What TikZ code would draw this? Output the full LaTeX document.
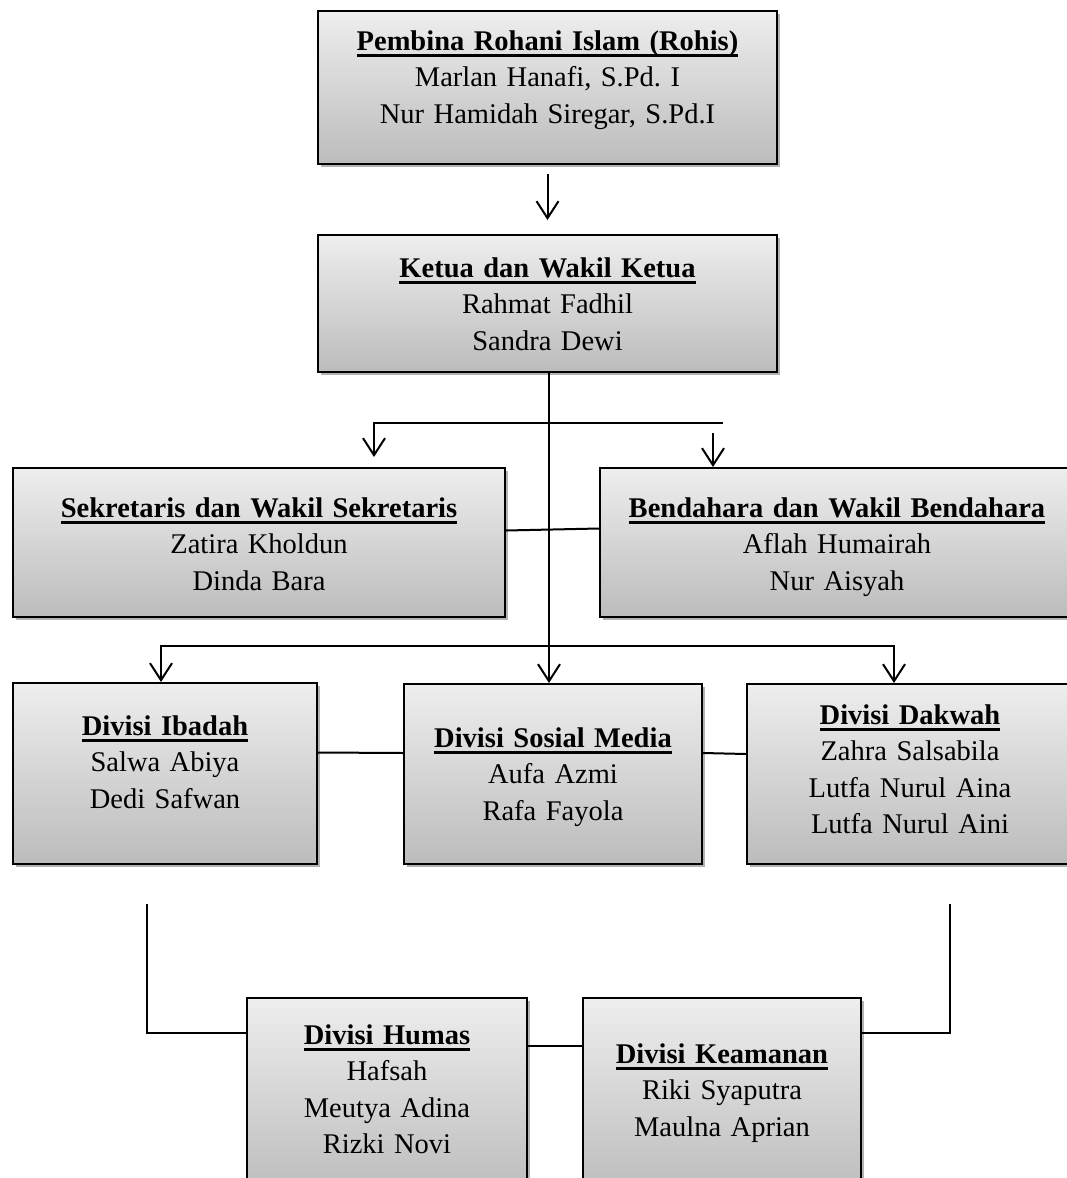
\documentclass[tikz,border=0pt]{standalone}
\usepackage{fontspec}
\setmainfont{Liberation Serif}
\usetikzlibrary{arrows.meta,shadows,calc}
\definecolor{boxtop}{RGB}{238,238,238}
\definecolor{boxbot}{RGB}{188,188,188}
\newcommand\ulbox[1]{\setbox0\hbox{#1}\rlap{\rule[-6.5pt]{\wd0}{2.4pt}}\box0}
\frenchspacing
\begin{document}
\begin{tikzpicture}[x=1pt,y=-1pt,
  boxnode/.style={draw=black, line width=2pt, rectangle, inner sep=0pt,
    top color=boxtop, bottom color=boxbot,
    drop shadow={shadow xshift=3pt, shadow yshift=-3pt, opacity=0.3, fill=black}},
  txt/.style={align=center, text width=480pt, font=\fontsize{28.5}{36.5}\selectfont, inner sep=0pt, anchor=base},
  conn/.style={line width=2pt},
  arr/.style={conn, -{Straight Barb[length=17pt,width=22pt]}}
]
\useasboundingbox (0,0) rectangle (1067,1178);

% boxes
\node[boxnode, minimum width=459pt, minimum height=153pt] (pembina) at (547.5,87.5) {};
\node[boxnode, minimum width=459pt, minimum height=137pt] (ketua) at (547.5,303.5) {};
\node[boxnode, minimum width=492pt, minimum height=149pt] (sekretaris) at (259,542.5) {};
\node[boxnode, minimum width=474pt, minimum height=149pt] (bendahara) at (837,542.5) {};
\node[boxnode, minimum width=304pt, minimum height=181pt] (ibadah) at (165,773.5) {};
\node[boxnode, minimum width=298pt, minimum height=180pt] (sosial) at (553,774) {};
\node[boxnode, minimum width=326pt, minimum height=180pt] (dakwah) at (910,774) {};
\node[boxnode, minimum width=280pt, minimum height=197pt] (humas) at (387,1096.5) {};
\node[boxnode, minimum width=278pt, minimum height=197pt] (keamanan) at (722,1096.5) {};

% texts
\node[txt] (pembina-t) at (547.5,50) {\ulbox{\bfseries Pembina Rohani Islam (Rohis)}\\Marlan Hanafi, S.Pd. I\\Nur Hamidah Siregar, S.Pd.I};
\node[txt] (ketua-t) at (547.5,277) {\ulbox{\bfseries Ketua dan Wakil Ketua}\\Rahmat Fadhil\\Sandra Dewi};
\node[txt] (sekretaris-t) at (259,517) {\ulbox{\bfseries Sekretaris dan Wakil Sekretaris}\\Zatira Kholdun\\Dinda Bara};
\node[txt] (bendahara-t) at (837,517) {\ulbox{\bfseries Bendahara dan Wakil Bendahara}\\Aflah Humairah\\Nur Aisyah};
\node[txt] (ibadah-t) at (165,735) {\ulbox{\bfseries Divisi Ibadah}\\Salwa Abiya\\Dedi Safwan};
\node[txt] (sosial-t) at (553,747) {\ulbox{\bfseries Divisi Sosial Media}\\Aufa Azmi\\Rafa Fayola};
\node[txt] (dakwah-t) at (910,724) {\ulbox{\bfseries Divisi Dakwah}\\Zahra Salsabila\\Lutfa Nurul Aina\\Lutfa Nurul Aini};
\node[txt] (humas-t) at (387,1044) {\ulbox{\bfseries Divisi Humas}\\Hafsah\\Meutya Adina\\Rizki Novi};
\node[txt] (keamanan-t) at (722,1063) {\ulbox{\bfseries Divisi Keamanan}\\Riki Syaputra\\Maulna Aprian};

% connectors
\draw[arr, shorten <=9pt, shorten >=14pt] (pembina) -- (ketua);
\coordinate (j1) at (549,423);
\coordinate (j1r) at (723,423);
\coordinate (bin) at (713,433);
\coordinate (j2) at (549,646);
\draw[arr] (ketua.south -| j1) -- (sosial.north -| j1);
\draw[arr, shorten >=10pt] (j1) -| ($(sekretaris.north west)+(362,0)$);
\draw[conn] (j1) -- (j1r);
\draw[arr] (bin) -- (bendahara.north -| bin);
\draw[conn] ($(sekretaris.east)+(0,-12)$) -- ($(bendahara.west)+(0,-14)$);
\draw[arr] (j2) -| ($(ibadah.north west)+(149,0)$);
\draw[arr] (j2) -| ($(dakwah.north west)+(148,0)$);
\draw[conn] ($(ibadah.east)+(0,-21)$) -- ($(sosial.west)+(0,-21)$);
\draw[conn] ($(sosial.east)+(0,-21)$) -- ($(dakwah.west)+(0,-20)$);
\draw[conn] ($(humas.east)+(0,-50.5)$) -- ($(keamanan.west)+(0,-50.5)$);
\coordinate (ibt) at (147,904);
\coordinate (dkt) at (950,904);
\draw[conn] (ibt) |- ($(humas.west)+(0,-63.5)$);
\draw[conn] (dkt) |- ($(keamanan.east)+(0,-63.5)$);
\end{tikzpicture}
\end{document}
